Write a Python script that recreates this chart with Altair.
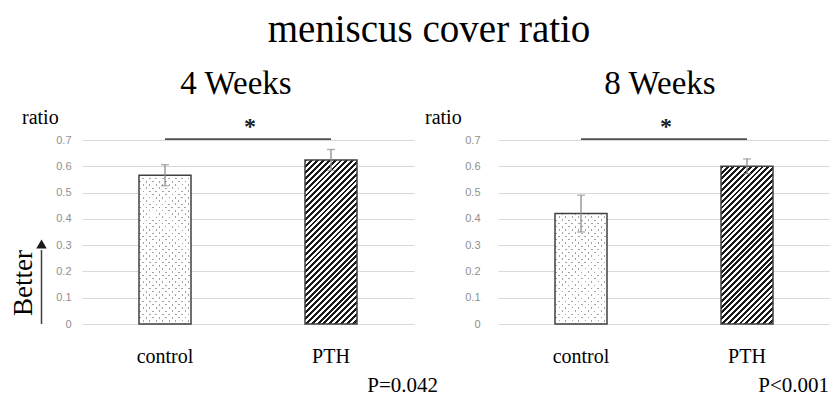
import math
import altair as alt
import pandas as pd

# ---------------- data ----------------
groups = ["control", "PTH"]
panel_titles = ["4 Weeks", "8 Weeks"]
means_4w = [0.566, 0.624]
sd_4w = [0.040, 0.040]
means_8w = [0.420, 0.600]
sd_8w = [0.070, 0.028]
p_labels = ["P=0.042", "P<0.001"]
sig_marks = ["*", "*"]
y_ticks = [0, 0.1, 0.2, 0.3, 0.4, 0.5, 0.6, 0.7]
main_title = "meniscus cover ratio"
y_label = "ratio"
better_label = "Better"

# ---------------- style ----------------
W, H = 332, 184
YMAX = 0.7
BAR_W = 52
SERIF = "Liberation Serif"


def diag_gradient(w, h, period, frac, c_on, c_off, direction):
    """Diagonal stripe gradient (SVG objectBoundingBox units)."""
    a, b = 1.0 / h, 1.0 / w
    c = (a + b) / (a * a + b * b)
    if direction == "/":
        x1, y1, x2, y2 = 0, 0, c * a, c * b
    else:
        x1, y1, x2, y2 = 0, 1, c * a, 1 - c * b
    n = max(1, round((w + h) / (math.sqrt(2) * period)))
    stops = []
    for k in range(n):
        s, m, e = k / n, (k + frac) / n, (k + 1) / n
        stops += [
            {"offset": round(min(s, 1), 5), "color": c_on},
            {"offset": round(min(m, 1), 5), "color": c_on},
            {"offset": round(min(m, 1), 5), "color": c_off},
            {"offset": round(min(e, 1), 5), "color": c_off},
        ]
    return {"gradient": "linear", "x1": x1, "y1": y1, "x2": x2, "y2": y2, "stops": stops}


def panel(idx, means, sds, label_pad, ratio_x, title_x, p_x, with_better):
    df = pd.DataFrame({
        "group": groups,
        "mean": means,
        "lo": [m - s for m, s in zip(means, sds)],
        "hi": [m + s for m, s in zip(means, sds)],
    })
    xs = alt.Scale(domain=groups, paddingInner=0, paddingOuter=0)
    ys = alt.Scale(domain=[0, YMAX], nice=False, zero=True)
    x_axis = alt.Axis(labelFont=SERIF, labelFontSize=20, labelColor="black", labelAngle=0,
                      ticks=False, domain=False, grid=False, labelPadding=22, title=None)
    y_axis = alt.Axis(values=y_ticks,
                      labelExpr="datum.value == 0 ? '0' : format(datum.value, '.1f')",
                      labelFont="Liberation Sans", labelFontSize=11, labelColor="#8f8f8f",
                      ticks=False, domain=False, gridColor="#d9d9d9", gridWidth=1,
                      labelPadding=label_pad, title=None)
    xe = alt.X("group:N", scale=xs, axis=x_axis, title=None)

    def ye(field):
        return alt.Y(field, scale=ys, axis=y_axis, title=None)

    base = alt.Chart(df)
    layers = []
    for gi, g in enumerate(groups):
        h = means[gi] / YMAX * H
        sub = base.transform_filter(alt.datum.group == g)
        enc = dict(x=xe, y=ye("mean:Q"))
        if g == "control":
            bottom = diag_gradient(BAR_W, h, 4.6, 0.3, "#a3a3a3", "#ffffff", "/")
            top = diag_gradient(BAR_W, h, 4.6, 0.3, "rgba(255,255,255,0)", "#ffffff", "\\")
            layers.append(sub.mark_bar(size=BAR_W, fill=bottom, strokeWidth=0).encode(**enc))
            layers.append(sub.mark_bar(size=BAR_W, fill=top, stroke="#404040",
                                       strokeWidth=1.5).encode(**enc))
        else:
            hatch = diag_gradient(BAR_W, h, 4.1, 0.5, "#1a1a1a", "#ffffff", "/")
            layers.append(sub.mark_bar(size=BAR_W, fill=hatch, stroke="#404040",
                                       strokeWidth=1.5).encode(**enc))
    err = base.mark_rule(color="#8a8a8a", strokeWidth=1.3).encode(
        x=xe, y=ye("lo:Q"), y2="hi:Q")
    cap_hi = base.mark_tick(color="#8a8a8a", orient="horizontal", size=8, thickness=1.3).encode(
        x=xe, y=ye("hi:Q"))
    cap_lo = base.mark_tick(color="#8a8a8a", orient="horizontal", size=8, thickness=1.3).encode(
        x=xe, y=ye("lo:Q"))
    layers += [err, cap_hi, cap_lo]

    sig = pd.DataFrame({"a": [groups[0]], "b": [groups[1]], "y": [0.703], "t": [sig_marks[idx]]})
    sig_line = alt.Chart(sig).mark_rule(color="#505050", strokeWidth=1.8).encode(
        x=alt.X("a:N", scale=xs, axis=x_axis, title=None, bandPosition=0.5),
        x2=alt.X2("b:N", bandPosition=0.5),
        y=ye("y:Q"))
    star = alt.Chart(sig).mark_text(font=SERIF, fontSize=24, fontWeight="bold", color="#222222",
                                    baseline="alphabetic").encode(
        text="t:N", x=alt.value(W / 2 + 2), y=alt.value(-6))
    layers += [sig_line, star]

    txt = pd.DataFrame({"ratio": [y_label], "title": [panel_titles[idx]], "p": [p_labels[idx]],
                        "better": [better_label]})
    tb = alt.Chart(txt)
    layers.append(tb.mark_text(font=SERIF, fontSize=20, align="left", baseline="middle",
                               color="black").encode(text="ratio:N", x=alt.value(ratio_x),
                                                     y=alt.value(-22)))
    layers.append(tb.mark_text(font=SERIF, fontSize=33, align="center", baseline="alphabetic",
                               color="black").encode(text="title:N", x=alt.value(title_x),
                                                     y=alt.value(-46)))
    layers.append(tb.mark_text(font=SERIF, fontSize=21, align="right", baseline="alphabetic",
                               color="black").encode(text="p:N", x=alt.value(p_x),
                                                     y=alt.value(252)))
    if with_better:
        layers.append(tb.mark_text(font=SERIF, fontSize=27, align="center", baseline="middle",
                                   angle=270, color="black").encode(
            text="better:N", x=alt.value(-58), y=alt.value(143)))
        layers.append(tb.mark_rule(color="#404040", strokeWidth=1.5).encode(
            x=alt.value(-40.5), y=alt.value(184), y2=alt.value(110)))
        layers.append(tb.mark_point(shape="triangle-up", size=110, filled=True, opacity=1,
                                    color="#1a1a1a").encode(
            x=alt.value(-40.5), y=alt.value(104)))
    return alt.layer(*layers).properties(width=W, height=H)


left = panel(0, means_4w, sd_4w, 11, -60, 154, 356, True)
right = panel(1, means_8w, sd_8w, 18, -73, 162, 331, False)

chart = alt.hconcat(left, right, spacing=84, bounds="flush").properties(
    title=alt.TitleParams(main_title, font=SERIF, fontSize=39, fontWeight="normal",
                          color="black", anchor="middle", dx=9, offset=18),
    padding={"left": 10, "top": 11, "right": 0, "bottom": 0},
    background="white",
).configure_view(stroke=None)

chart.save("out.html", embed_options={"renderer": "svg", "actions": False})
